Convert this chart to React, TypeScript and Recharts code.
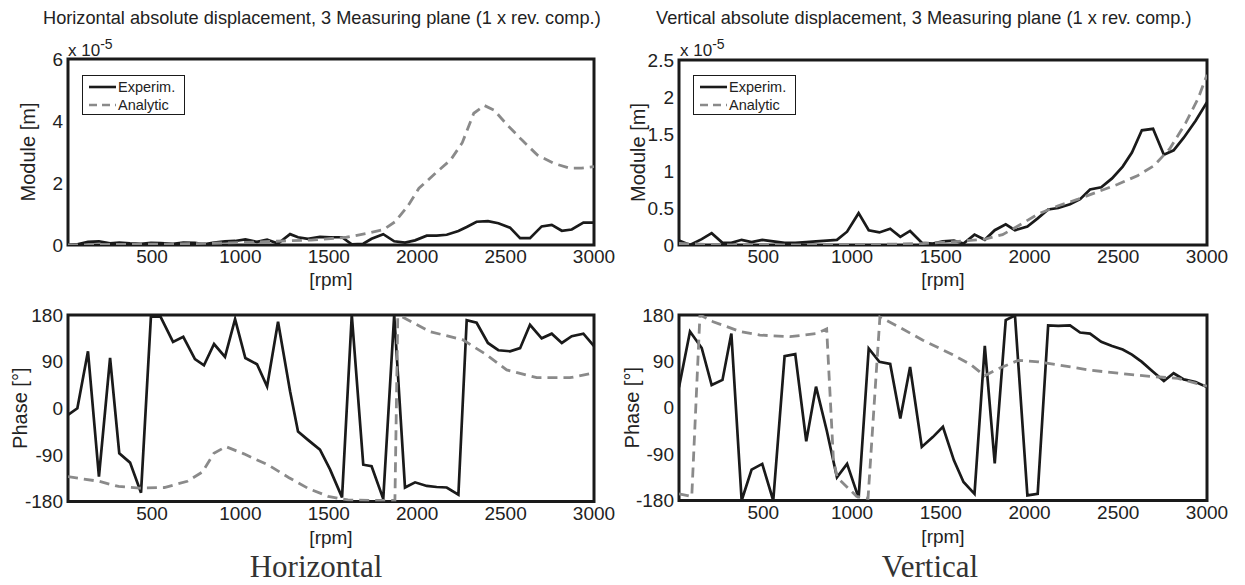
import { LineChart, Line, XAxis, YAxis, ReferenceArea, Legend } from 'recharts';

// horizontal plane, measured points (module x1e-5 m, phase deg)
const rpmH = [25, 78, 138, 200, 263, 315, 376, 438, 494, 548, 619, 677, 743, 794, 851, 913, 970, 1028, 1094, 1151,
  1213, 1281, 1326, 1382, 1450, 1507, 1575, 1630, 1695, 1742, 1808, 1870, 1931, 1988, 2054, 2110, 2167, 2233, 2280,
  2336, 2400, 2459, 2525, 2582, 2638, 2704, 2761, 2818, 2874, 2940, 3000];
const hModExp = [0.0, 0.02, 0.1, 0.12, 0.05, 0.08, 0.05, 0.04, 0.07, 0.06, 0.04, 0.08, 0.07, 0.02, 0.08, 0.12, 0.13,
  0.18, 0.1, 0.17, 0.05, 0.35, 0.25, 0.2, 0.26, 0.25, 0.25, 0.02, 0.04, 0.2, 0.35, 0.12, 0.08, 0.15, 0.3, 0.3, 0.33,
  0.45, 0.58, 0.75, 0.77, 0.7, 0.56, 0.22, 0.22, 0.6, 0.65, 0.46, 0.5, 0.72, 0.72];
const hPhaseExp = [-13, 0, 110, -132, 97, -87, -105, -163, 177, 177, 128, 138, 95, 83, 124, 99, 172, 97, 85, 42, 167,
  33, -45, -61, -80, -118, -172, 180, -109, -112, -175, 180, -153, -143, -150, -152, -153, -167, 170, 165, 126, 112,
  110, 116, 161, 135, 144, 126, 139, 144, 120];

// horizontal plane, analytic model
const rpmHModAna = [25, 300, 600, 800, 1000, 1200, 1400, 1600, 1720, 1810, 1875, 1945, 2010, 2100, 2190, 2255, 2320,
  2380, 2435, 2500, 2590, 2680, 2770, 2860, 2930, 3000];
const hModAna = [0.0, 0.02, 0.03, 0.05, 0.08, 0.12, 0.16, 0.25, 0.38, 0.5, 0.75, 1.24, 1.83, 2.3, 2.75, 3.3, 4.25,
  4.5, 4.35, 3.93, 3.4, 2.9, 2.64, 2.48, 2.48, 2.53];
const rpmHPhaseAna = [25, 200, 311, 430, 570, 700, 785, 850, 918, 1020, 1160, 1275, 1385, 1496, 1608, 1764, 1874,
  1890, 1912, 2072, 2259, 2393, 2506, 2676, 2864, 3000];
const hPhaseAna = [-132, -141, -151, -154, -153, -141, -123, -87, -74, -88, -110, -134, -155, -170, -177, -178, -178,
  176, 177, 148, 132, 103, 74, 59, 59, 68];

// vertical plane, measured points
const rpmV = [25, 87, 153, 209, 270, 320, 378, 434, 494, 556, 620, 680, 742, 797, 858, 915, 972, 1037, 1094, 1154,
  1215, 1272, 1327, 1393, 1455, 1512, 1574, 1628, 1690, 1748, 1804, 1866, 1918, 1988, 2046, 2105, 2162, 2228, 2285,
  2341, 2404, 2465, 2525, 2577, 2633, 2696, 2757, 2812, 2869, 2936, 3000];
const vModExp = [0.06, 0, 0.08, 0.16, 0.03, 0.03, 0.07, 0.04, 0.07, 0.05, 0.03, 0.03, 0.04, 0.05, 0.06, 0.07, 0.18,
  0.43, 0.2, 0.17, 0.22, 0.11, 0.19, 0.03, 0.02, 0.05, 0.06, 0.02, 0.14, 0.07, 0.2, 0.28, 0.2, 0.25, 0.36, 0.48, 0.5,
  0.55, 0.62, 0.75, 0.78, 0.9, 1.06, 1.25, 1.55, 1.57, 1.22, 1.28, 1.45, 1.68, 1.93];
const vPhaseExp = [40, 148, 116, 44, 54, 144, -180, -120, -109, -180, 100, 104, -65, 41, -45, -135, -109, -175, 115,
  89, 85, -21, 79, -76, -57, -37, -102, -144, -167, 120, -108, 170, 179, -170, -167, 160, 159, 160, 146, 144, 128,
  120, 113, 103, 89, 70, 52, 67, 55, 50, 40];

// vertical plane, analytic model
const rpmVModAna = [25, 300, 600, 1000, 1400, 1600, 1750, 1848, 1937, 2050, 2162, 2274, 2386, 2498, 2611, 2700, 2790,
  2880, 2950, 3000];
const vModAna = [0.02, 0.0, 0.0, 0.0, 0.02, 0.05, 0.08, 0.14, 0.26, 0.42, 0.53, 0.62, 0.72, 0.82, 0.94, 1.07, 1.3,
  1.65, 1.98, 2.3];
const rpmVPhaseAna = [25, 90, 97, 143, 217, 369, 481, 650, 800, 857, 895, 916, 1026, 1090, 1157, 1264, 1399, 1556,
  1668, 1747, 1825, 1937, 2050, 2162, 2341, 2498, 2678, 2835, 3000];
const vPhaseAna = [-167, -172, -172, 180, 167, 148, 141, 138, 144, 153, -100, -135, -172, -176, 176, 157, 131, 105,
  84, 62, 76, 92, 89, 83, 73, 67, 61, 57, 42];

const rpmTicks = [500, 1000, 1500, 2000, 2500, 3000];
const hModTicks = [0, 2, 4, 6];
const vModTicks = [0, 0.5, 1, 1.5, 2, 2.5];
const phaseTicks = [-180, -90, 0, 90, 180];

const RPM_MIN = 25;
const RPM_MAX = 3000;
const SANS = '"Liberation Sans", Arial, sans-serif';
const INK = '#1a1a1a';
const GREY = '#8a8a8a';

const toPoints = (xs: number[], ys: number[]) => xs.map((rpm, i) => ({ rpm, v: ys[i] }));

const LegendBox = () => (
  <div style={{ width: 101, height: 38, border: `1.5px solid ${INK}`, background: '#fff', fontFamily: SANS, fontSize: 14.5, color: '#222', position: 'relative' }}>
    <svg width={30} height={38} style={{ position: 'absolute', left: 4, top: 0 }}>
      <line x1={2} x2={29} y1={11} y2={11} stroke={INK} strokeWidth={2.6} />
      <line x1={2} x2={29} y1={29} y2={29} stroke={GREY} strokeWidth={2.6} strokeDasharray="8 5" />
    </svg>
    <div style={{ position: 'absolute', left: 35, top: 2, lineHeight: '18px' }}>Experim.</div>
    <div style={{ position: 'absolute', left: 35, top: 20, lineHeight: '18px' }}>Analytic</div>
  </div>
);

type PanelProps = {
  left: number;
  top: number;
  width: number;
  height: number;
  margin: { top: number; right: number; bottom: number; left: number };
  yWidth: number;
  xHeight: number;
  yDomain: [number, number];
  yTicks: number[];
  yLabel: string;
  yLabelOffset: number;
  exp: { rpm: number; v: number }[];
  ana: { rpm: number; v: number }[];
  legendAt?: { left: number; top: number };
};

const Panel = (p: PanelProps) => (
  <div style={{ position: 'absolute', left: p.left, top: p.top }}>
    <LineChart width={p.width} height={p.height} margin={p.margin} style={{ fontFamily: SANS }}>
      <XAxis
        dataKey="rpm"
        type="number"
        domain={[RPM_MIN, RPM_MAX]}
        allowDataOverflow
        ticks={rpmTicks}
        interval={0}
        axisLine={false}
        tickLine={false}
        tickSize={4}
        tickMargin={1}
        height={p.xHeight}
        tick={{ fontSize: 19, fill: '#222' }}
        label={{ value: '[rpm]', position: 'insideBottom', offset: 5, style: { fontSize: 19, fill: '#222' } }}
      />
      <YAxis
        type="number"
        domain={p.yDomain}
        allowDataOverflow
        ticks={p.yTicks}
        interval={0}
        width={p.yWidth}
        axisLine={false}
        tickLine={false}
        tickSize={4}
        tickMargin={1}
        tick={{ fontSize: 19, fill: '#222' }}
        label={{ value: p.yLabel, angle: -90, position: 'insideLeft', offset: p.yLabelOffset, style: { fontSize: 20, fill: '#222', textAnchor: 'middle' } }}
      />
      <Line data={p.exp} dataKey="v" name="Experim." type="linear" stroke={INK} strokeWidth={2.7} dot={false} isAnimationActive={false} />
      <Line data={p.ana} dataKey="v" name="Analytic" type="linear" stroke={GREY} strokeWidth={2.8} strokeDasharray="10 6" dot={false} isAnimationActive={false} />
      <ReferenceArea x1={RPM_MIN} x2={RPM_MAX} y1={p.yDomain[0]} y2={p.yDomain[1]} fill="none" stroke={INK} strokeWidth={3} ifOverflow="visible" />
      {p.legendAt && (
        <Legend
          layout="horizontal"
          verticalAlign="middle"
          align="center"
          content={<LegendBox />}
          wrapperStyle={{ left: p.legendAt.left, top: p.legendAt.top, width: 'auto' }}
        />
      )}
    </LineChart>
  </div>
);

const Exponent = ({ left }: { left: number }) => (
  <div style={{ position: 'absolute', left, top: 36, fontFamily: SANS, fontSize: 17, color: '#222', whiteSpace: 'nowrap' }}>
    x 10<sup style={{ fontSize: 14 }}>-5</sup>
  </div>
);

export default function App() {
  return (
    <div style={{ position: 'absolute', left: 0, top: 0, width: 1245, height: 585, background: '#fff', overflow: 'hidden' }}>
      <div style={{ position: 'absolute', left: 43, top: 8, fontFamily: SANS, fontSize: 18.2, color: '#222', whiteSpace: 'nowrap' }}>
        Horizontal absolute displacement, 3 Measuring plane (1 x rev. comp.)
      </div>
      <div style={{ position: 'absolute', left: 656, top: 8, fontFamily: SANS, fontSize: 18.2, color: '#222', whiteSpace: 'nowrap' }}>
        Vertical absolute displacement, 3 Measuring plane (1 x rev. comp.)
      </div>

      <Panel
        left={0} top={0} width={620} height={300}
        margin={{ top: 59, right: 26, bottom: 9, left: 0 }}
        yWidth={68} xHeight={46}
        yDomain={[0, 6]} yTicks={hModTicks} yLabel="Module [m]" yLabelOffset={28}
        exp={toPoints(rpmH, hModExp)} ana={toPoints(rpmHModAna, hModAna)}
        legendAt={{ left: 82, top: 75 }}
      />
      <Panel
        left={620} top={0} width={625} height={300}
        margin={{ top: 60, right: 38, bottom: 9, left: 0 }}
        yWidth={59} xHeight={46}
        yDomain={[0, 2.5]} yTicks={vModTicks} yLabel="Module [m]" yLabelOffset={18}
        exp={toPoints(rpmV, vModExp)} ana={toPoints(rpmVModAna, vModAna)}
        legendAt={{ left: 73, top: 75 }}
      />
      <Panel
        left={0} top={300} width={620} height={285}
        margin={{ top: 15, right: 26, bottom: 36, left: 0 }}
        yWidth={68} xHeight={47.5}
        yDomain={[-180, 180]} yTicks={phaseTicks} yLabel="Phase [°]" yLabelOffset={20}
        exp={toPoints(rpmH, hPhaseExp)} ana={toPoints(rpmHPhaseAna, hPhaseAna)}
      />
      <Panel
        left={620} top={300} width={625} height={285}
        margin={{ top: 15, right: 38, bottom: 37, left: 0 }}
        yWidth={59} xHeight={47.5}
        yDomain={[-180, 180]} yTicks={phaseTicks} yLabel="Phase [°]" yLabelOffset={12}
        exp={toPoints(rpmV, vPhaseExp)} ana={toPoints(rpmVPhaseAna, vPhaseAna)}
      />

      <Exponent left={68} />
      <Exponent left={680} />

      <div style={{ position: 'absolute', left: 316, top: 567, transform: 'translate(-50%, -50%)', fontFamily: '"Liberation Serif", "Times New Roman", serif', fontSize: 31, color: '#333' }}>
        Horizontal
      </div>
      <div style={{ position: 'absolute', left: 930, top: 567, transform: 'translate(-50%, -50%)', fontFamily: '"Liberation Serif", "Times New Roman", serif', fontSize: 31, color: '#333' }}>
        Vertical
      </div>
    </div>
  );
}
